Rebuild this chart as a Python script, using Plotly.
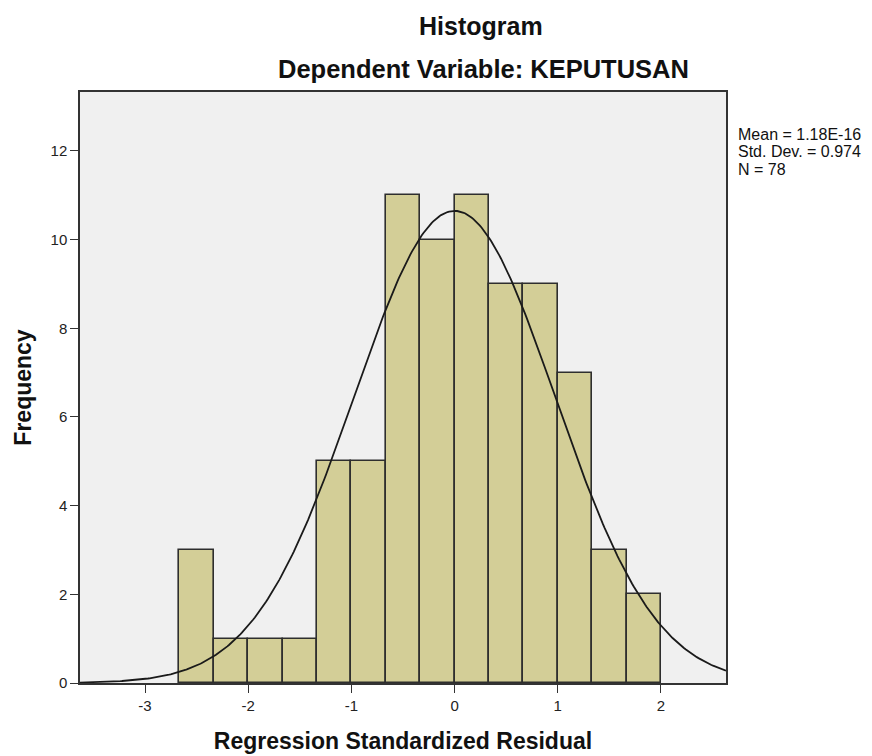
import numpy as np
import plotly.graph_objects as go

# Data
bin_left_edges = [-8/3, -7/3, -2.0, -5/3, -4/3, -1.0, -2/3, -1/3, 0.0, 1/3, 2/3, 1.0, 4/3, 5/3]
bin_width = 1/3
frequencies = [3, 1, 1, 1, 5, 5, 11, 10, 11, 9, 9, 7, 3, 2]
stat_mean = 1.18e-16
stat_sd = 0.974
stat_n = 78
stat_lines = ["Mean = 1.18E-16", "Std. Dev. = 0.974", "N = 78"]
x_ticks = [-3, -2, -1, 0, 1, 2]
y_ticks = [0, 2, 4, 6, 8, 10, 12]

x_range = [-3.63, 2.63]
y_range = [0, 13.33]

centers = [e + bin_width / 2 for e in bin_left_edges]

# normal curve from reported statistics
xs = np.linspace(x_range[0], x_range[1], 400)
ys = stat_n * bin_width / (stat_sd * np.sqrt(2 * np.pi)) * np.exp(-0.5 * ((xs - stat_mean) / stat_sd) ** 2)

FONT = "Liberation Sans, Arial, sans-serif"
OFF = 8  # page body margin offset
W, H = 872, 756
ML, MR, MT, MB = 80 - OFF, W - 726 + OFF, 92 - OFF, H - 683 + OFF

fig = go.Figure()
fig.add_trace(go.Bar(
    x=centers, y=frequencies, width=[bin_width] * len(centers),
    marker=dict(color="#D3CE97", line=dict(color="#2e2e2e", width=1.6)),
    showlegend=False, hoverinfo="x+y"))
fig.add_trace(go.Scatter(
    x=xs, y=ys, mode="lines", line=dict(color="#1a1a1a", width=1.8),
    showlegend=False, hoverinfo="skip"))

pw = W - ML - MR
ph = H - MT - MB


def px2paper(px, py_top):
    # px, py_top in screenshot coords
    x = (px - OFF - ML) / pw
    y = (H - (py_top - OFF) - MB) / ph
    return x, y


anns = []
hx, hy = px2paper(481, 26)
anns.append(dict(text="<b>Histogram</b>", x=hx, y=hy, xref="paper", yref="paper",
                 xanchor="center", yanchor="middle", showarrow=False,
                 font=dict(size=25, color="#111")))
dx, dy = px2paper(483, 69)
anns.append(dict(text="<b>Dependent Variable: KEPUTUSAN</b>", x=dx, y=dy, xref="paper", yref="paper",
                 xanchor="center", yanchor="middle", showarrow=False,
                 font=dict(size=25.5, color="#111")))
for i, line in enumerate(stat_lines):
    lx, ly = px2paper(736, 134 + 17.5 * i)
    anns.append(dict(text=line, x=lx, y=ly, xref="paper", yref="paper", showarrow=False,
                     xanchor="left", yanchor="middle", align="left",
                     font=dict(size=16, color="#111")))

fig.update_layout(
    width=W, height=H,
    margin=dict(l=ML, r=MR, t=MT, b=MB),
    paper_bgcolor="white", plot_bgcolor="#F0F0F0",
    font=dict(family=FONT, size=15, color="#222"),
    bargap=0,
    xaxis=dict(range=x_range, tickvals=x_ticks, ticktext=[str(t) for t in x_ticks],
               showgrid=False, zeroline=False, showline=True, linecolor="#333", linewidth=1.5,
               mirror=True, ticks="outside", ticklen=8, tickwidth=1.3, tickcolor="#333",
               tickfont=dict(size=15, color="#222"),
               title=dict(text="<b>Regression Standardized Residual</b>",
                          font=dict(size=23, color="#111"), standoff=20)),
    yaxis=dict(range=y_range, tickvals=y_ticks, ticktext=[str(t) for t in y_ticks],
               showgrid=False, zeroline=False, showline=True, linecolor="#333", linewidth=1.5,
               mirror=True, ticks="outside", ticklen=8, tickwidth=1.3, tickcolor="#333",
               tickfont=dict(size=15, color="#222"),
               title=dict(text="<b>Frequency</b>", font=dict(size=23, color="#111"), standoff=13)),
    annotations=anns,
)

fig.write_html("out.html")
